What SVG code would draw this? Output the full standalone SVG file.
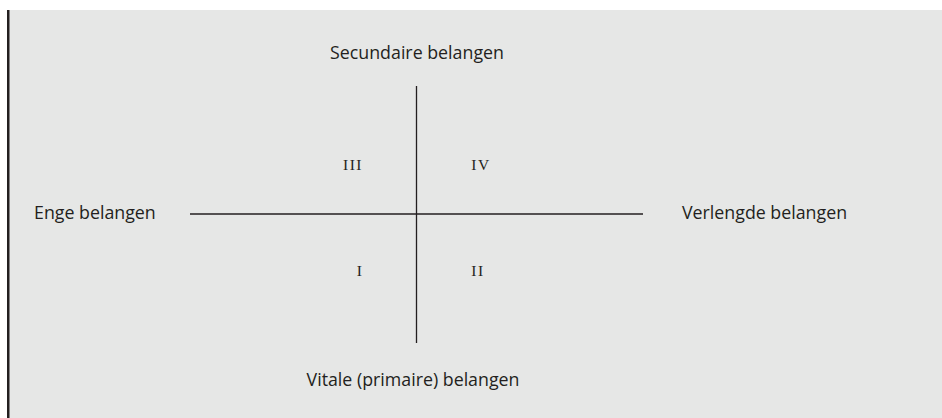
<svg xmlns="http://www.w3.org/2000/svg" width="942" height="418" viewBox="0 0 942 418">
<style>
.lbl{font-family:"Open Sans","Noto Sans",sans-serif;font-size:17.8px;fill:#231f20}
.num{font-family:"Liberation Serif","DejaVu Serif",serif;font-size:15.5px;fill:#231f20;text-anchor:middle;letter-spacing:1.5px}
.ax{stroke:#231f20;stroke-width:1.3;fill:none}
</style>
<rect x="0" y="0" width="942" height="418" fill="#ffffff"/>
<rect x="9" y="10" width="933" height="408" fill="#e6e7e6"/>
<rect x="7" y="10" width="2.5" height="408" fill="#231f20"/>
<g id="connectors">
<line class="ax" x1="190" y1="214" x2="643" y2="214"/>
<line class="ax" x1="416.5" y1="86" x2="416.5" y2="343"/>
</g>
<g id="top"><text class="lbl" x="417" y="59" text-anchor="middle">Secundaire belangen</text></g>
<g id="left"><text class="lbl" x="34" y="219">Enge belangen</text></g>
<g id="right"><text class="lbl" x="682" y="219">Verlengde belangen</text></g>
<g id="bottom"><text class="lbl" x="413" y="386" text-anchor="middle">Vitale (primaire) belangen</text></g>
<g id="q3"><text class="num" x="353" y="170">III</text></g>
<g id="q4"><text class="num" x="481" y="170">IV</text></g>
<g id="q1"><text class="num" x="360" y="276">I</text></g>
<g id="q2"><text class="num" x="478" y="276">II</text></g>
</svg>
